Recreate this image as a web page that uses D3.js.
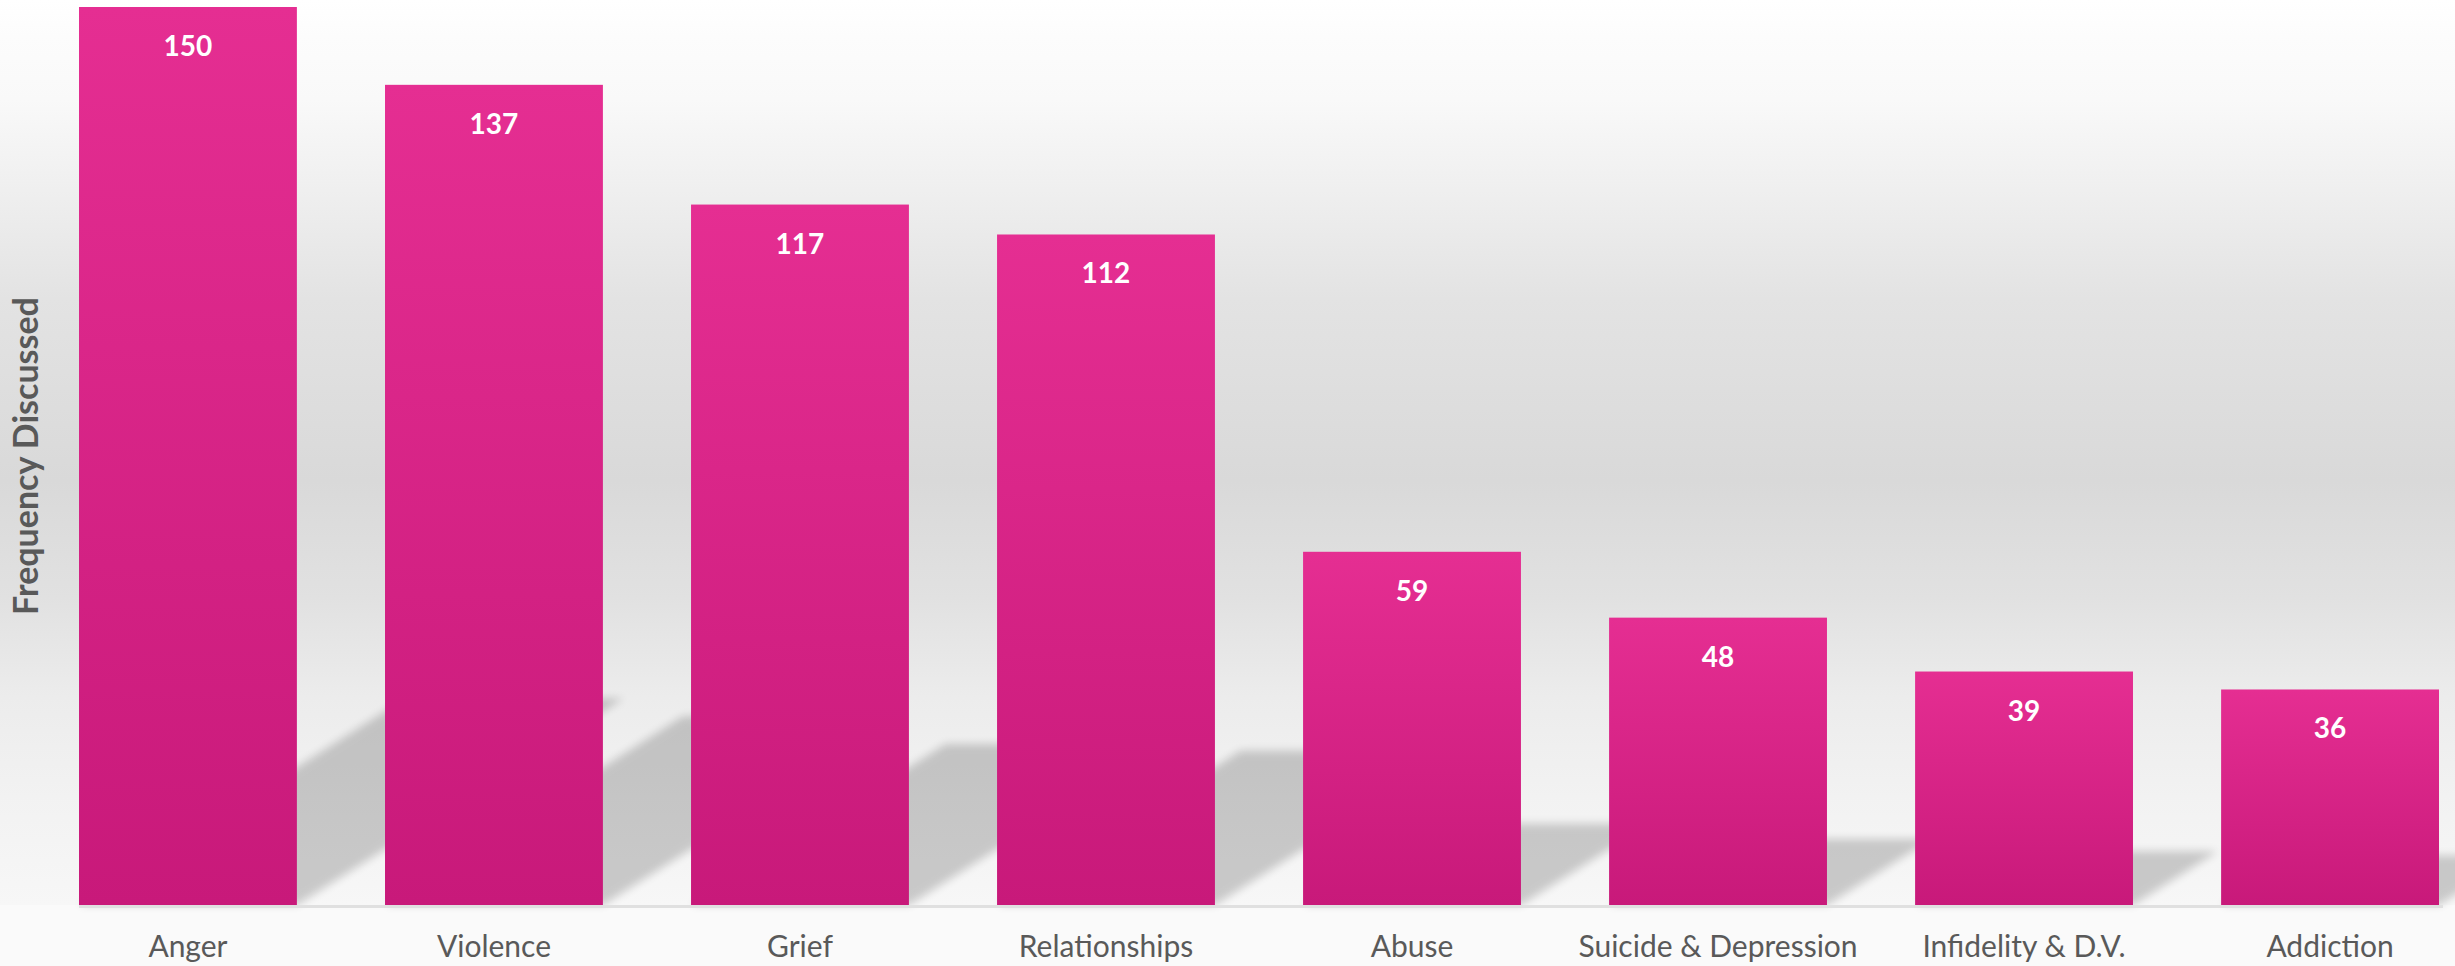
<!DOCTYPE html>
<html>
<head>
<meta charset="utf-8">
<script src="https://cdn.jsdelivr.net/npm/d3@7"></script>
<style>
  html, body { margin: 0; padding: 0; background: #fafafa; }
  svg { display: block; }
</style>
</head>
<body>
<svg id="chart" width="2455" height="966"></svg>
<script>
const categories = ["Anger", "Violence", "Grief", "Relationships", "Abuse", "Suicide & Depression", "Infidelity & D.V.", "Addiction"];
const values = [150, 137, 117, 112, 59, 48, 39, 36];
const yTitle = "Frequency Discussed";

const W = 2455, H = 966;
const svg = d3.select("#chart");
const defs = svg.append("defs");

const base = 905;
const x = d3.scaleBand().domain(categories).range([79, 2439]).paddingInner(0.288).paddingOuter(0);
const y = d3.scaleLinear().domain([0, 150]).range([base, 7]);

// background gradient
const bg = defs.append("linearGradient").attr("id", "bg").attr("x1", 0).attr("y1", 0).attr("x2", 0).attr("y2", 1);
[[0, "#ffffff"], [0.04, "#fcfcfc"], [0.11, "#f9f9f9"], [0.19, "#f1f1f1"], [0.33, "#e3e3e3"],
 [0.53, "#d9d9d9"], [0.66, "#e1e1e1"], [0.77, "#ececec"], [0.88, "#f2f2f2"], [1, "#f7f7f7"]]
  .forEach(([o, c]) => bg.append("stop").attr("offset", o).attr("stop-color", c));

const barGrad = defs.append("linearGradient").attr("id", "barGrad").attr("x1", 0).attr("y1", 0).attr("x2", 0).attr("y2", 1);
barGrad.append("stop").attr("offset", 0).attr("stop-color", "#e52e92");
barGrad.append("stop").attr("offset", 1).attr("stop-color", "#c8197a");

const blur = defs.append("filter").attr("id", "blur").attr("x", "-10%").attr("y", "-10%").attr("width", "120%").attr("height", "120%");
blur.append("feGaussianBlur").attr("stdDeviation", 4);

svg.append("rect").attr("x", 0).attr("y", 0).attr("width", W).attr("height", base).attr("fill", "url(#bg)");
svg.append("rect").attr("x", 0).attr("y", base).attr("width", W).attr("height", H - base).attr("fill", "#fafafa");

// perspective shadows
const shadowG = svg.append("g").attr("opacity", 0.18).attr("filter", "url(#blur)");
shadowG.selectAll("polygon").data(categories).join("polygon")
  .attr("fill", "#000")
  .attr("points", (c, i) => {
    const x0 = x(c), x1 = x(c) + x.bandwidth();
    const h = base - y(values[i]);
    const dy = 0.23 * h, dx = 1.58 * dy;
    return [[x0, base], [x1, base], [x1 + dx, base - dy], [x0 + dx, base - dy]].map(p => p.join(",")).join(" ");
  });

// thin base shadow line
svg.append("rect").attr("x", x(categories[0])).attr("y", base).attr("width", 2439 - x(categories[0]) + 4)
  .attr("height", 3).attr("fill", "#e0e0e0");

// bars
svg.append("g").selectAll("rect").data(categories).join("rect")
  .attr("x", c => x(c))
  .attr("y", (c, i) => y(values[i]))
  .attr("width", x.bandwidth())
  .attr("height", (c, i) => base - y(values[i]))
  .attr("fill", "url(#barGrad)");

// value labels
svg.append("g").selectAll("text").data(categories).join("text")
  .attr("x", c => x(c) + x.bandwidth() / 2)
  .attr("y", (c, i) => y(values[i]) + 49)
  .attr("text-anchor", "middle")
  .attr("font-family", "Lato, 'Open Sans', sans-serif")
  .attr("font-weight", 700)
  .attr("font-size", 28)
  .attr("fill", "#ffffff")
  .text((c, i) => values[i]);

// x axis
const xAxis = svg.append("g").attr("transform", `translate(0,${base})`)
  .call(d3.axisBottom(x).tickSize(0));
xAxis.select(".domain").remove();
xAxis.selectAll("text")
  .attr("y", 52).attr("dy", null)
  .attr("font-family", "Lato, 'Open Sans', sans-serif")
  .attr("font-size", 30)
  .attr("fill", "#595959");

// y title
svg.append("text")
  .attr("transform", "translate(38,456) rotate(-90)")
  .attr("text-anchor", "middle")
  .attr("font-family", "Lato, 'Open Sans', sans-serif")
  .attr("font-weight", 700)
  .attr("font-size", 34)
  .attr("fill", "#595959")
  .text(yTitle);
</script>
</body>
</html>
